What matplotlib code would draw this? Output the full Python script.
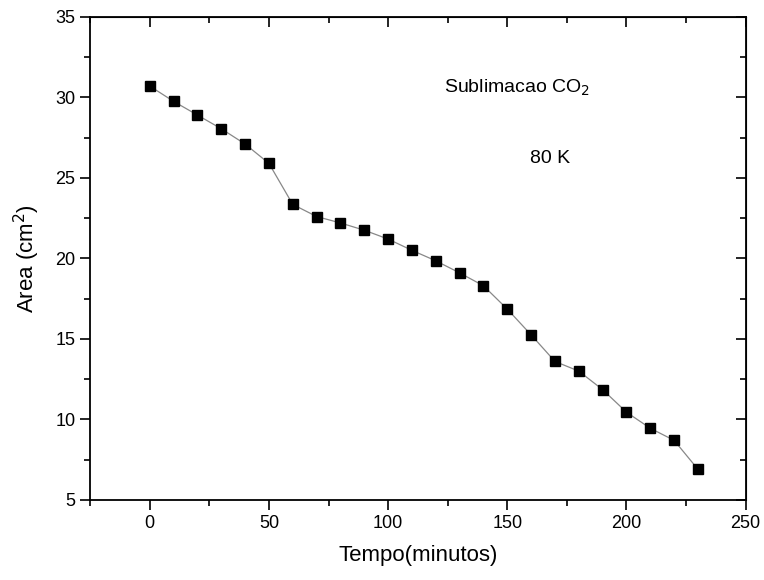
import matplotlib
matplotlib.use("Agg")
import matplotlib.pyplot as plt
from matplotlib.ticker import MultipleLocator

plt.rcParams['font.family'] = ['Liberation Sans', 'DejaVu Sans']

# ── Data ──────────────────────────────────────────────────────────────────────
tempo = [0, 10, 20, 30, 40, 50, 60, 70, 80, 90, 100, 110, 120,
         130, 140, 150, 160, 170, 180, 190, 200, 210, 220, 230]
area = [30.7, 29.75, 28.9, 28.05, 27.1, 25.9, 23.35, 22.6, 22.2, 21.75,
        21.2, 20.5, 19.85, 19.1, 18.3, 16.85, 15.25, 13.6, 13.0, 11.85,
        10.45, 9.45, 8.7, 6.9]

# ── Figure ────────────────────────────────────────────────────────────────────
fig = plt.figure(figsize=(7.64, 5.8), dpi=100)
ax = fig.add_axes([0.118, 0.138, 0.858, 0.833])

ax.plot(tempo, area, color="#888888", lw=0.9, marker="s", ms=7.5,
        mfc="black", mec="black")

ax.set_xlim(-25, 250)
ax.set_ylim(5, 35)
ax.xaxis.set_major_locator(MultipleLocator(50))
ax.xaxis.set_minor_locator(MultipleLocator(25))
ax.yaxis.set_major_locator(MultipleLocator(5))
ax.yaxis.set_minor_locator(MultipleLocator(2.5))

for s in ax.spines.values():
    s.set_linewidth(1.3)

ax.tick_params(which="both", direction="out", width=1.2, labelsize=13,
               top=False, right=False)
ax.tick_params(which="major", length=7)
ax.tick_params(which="minor", length=4)

# inward ticks on top and right
axt = ax.secondary_xaxis("top")
axt.xaxis.set_major_locator(MultipleLocator(50))
axt.xaxis.set_minor_locator(MultipleLocator(25))
axt.tick_params(which="both", direction="in", width=1.2, labeltop=False)
axt.tick_params(which="major", length=7)
axt.tick_params(which="minor", length=4)
axr = ax.secondary_yaxis("right")
axr.yaxis.set_major_locator(MultipleLocator(5))
axr.yaxis.set_minor_locator(MultipleLocator(2.5))
axr.tick_params(which="both", direction="in", width=1.2, labelright=False)
axr.tick_params(which="major", length=7)
axr.tick_params(which="minor", length=4)

ax.set_xlabel("Tempo(minutos)", fontsize=16, labelpad=10)
ax.set_ylabel("Area (cm$^2$)", fontsize=16, labelpad=10)

ax.text(154, 30.6, "Sublimacao CO$_2$", fontsize=14, ha="center", va="center")
ax.text(168, 26.2, "80 K", fontsize=14, ha="center", va="center")

fig.savefig("out.png", dpi=100)
